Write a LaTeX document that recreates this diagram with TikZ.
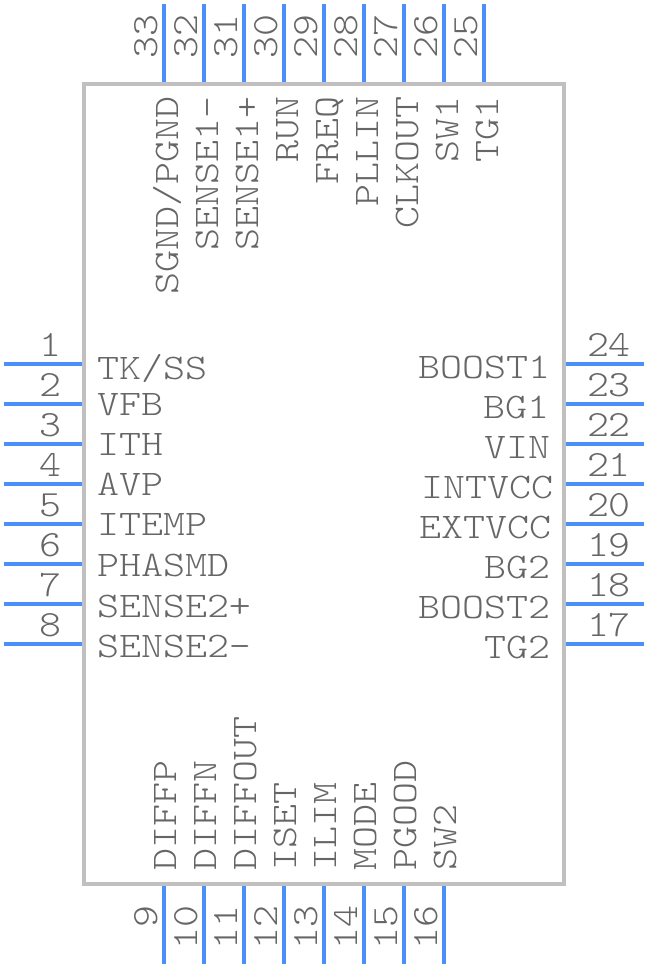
\documentclass[tikz,border=0pt]{standalone}
\usepackage{fontspec}
\newfontfamily\pinfont[FakeStretch=1.164]{Latin Modern Mono Light}
\newfontfamily\numfont[FakeStretch=1.13]{Latin Modern Mono Light}
\definecolor{pin}{HTML}{4A90F7}
\definecolor{body}{HTML}{C0C0C0}
\definecolor{txt}{HTML}{666666}
\tikzset{x=1pt,y=-1pt,
 pinline/.style={draw=pin,line width=4pt},
 pkg/.style={draw=body,line width=4pt},
 lab/.style={font=\pinfont\fontsize{36}{36}\selectfont,text=txt,inner sep=0pt,outer sep=0pt},
 num/.style={font=\numfont\fontsize{37}{37}\selectfont,text=txt,inner sep=0pt,outer sep=0pt},
 hl/.style={lab,anchor=base west},
 hr/.style={lab,anchor=base east},
 vl/.style={lab,anchor=base west,rotate=90},
 vr/.style={lab,anchor=base east,rotate=90},
 nhl/.style={num,anchor=base west},
 nhr/.style={num,anchor=base east},
 nvr/.style={num,anchor=base east,rotate=90}}
\begin{document}
\begin{tikzpicture}
\useasboundingbox (0,0) rectangle (648,968);
\foreach \y/\n/\t/\b in {364/1/TK\slash SS/379,404/2/VFB/415,444/3/ITH/455,484/4/AVP/495,524/5/ITEMP/535,564/6/PHASMD/576,604/7/SENSE2+/617,644/8/SENSE2-/657}{
 \coordinate (a\n) at (4,\y); \coordinate (b\n) at (84,\y);
 \draw[pinline] (a\n) -- (b\n);
 \node[nhr] (pn\n) at (61,\y-8) {\n};
 \node[hl] (pt\n) at (97,\b) {\t};
}
\foreach \y/\n/\t/\b/\e in {364/24/BOOST1/378/550,404/23/BG1/418/549,444/22/VIN/458/550,484/21/INTVCC/498/553,524/20/EXTVCC/538/551,564/19/BG2/578/550,604/18/BOOST2/618/550,644/17/TG2/658/550}{
 \coordinate (a\n) at (644,\y); \coordinate (b\n) at (564,\y);
 \draw[pinline] (a\n) -- (b\n);
 \node[nhl] (pn\n) at (587,\y-8) {\n};
 \node[hr] (pt\n) at (\e,\b) {\t};
}
\foreach \x/\n/\t in {164/9/DIFFP,204/10/DIFFN,244/11/DIFFOUT,284/12/ISET,324/13/ILIM,364/14/MODE,404/15/PGOOD,444/16/SW2}{
 \coordinate (a\n) at (\x,964); \coordinate (b\n) at (\x,884);
 \draw[pinline] (a\n) -- (b\n);
 \node[nvr] (pn\n) at (\x-7,906) {\n};
 \node[vl] (pt\n) at (\x+12,870) {\t};
}
\foreach \x/\n/\t in {484/25/TG1,444/26/SW1,404/27/CLKOUT,364/28/PLLIN,324/29/FREQ,284/30/RUN,244/31/SENSE1+,204/32/SENSE1-,164/33/SGND\slash PGND}{
 \coordinate (a\n) at (\x,4); \coordinate (b\n) at (\x,84);
 \draw[pinline] (a\n) -- (b\n);
 \node[nvr] (pn\n) at (\x-7,15) {\n};
 \node[vr] (pt\n) at (\x+14,97) {\t};
}
\draw[pkg] (84,84) rectangle (564,884);
\end{tikzpicture}
\end{document}
